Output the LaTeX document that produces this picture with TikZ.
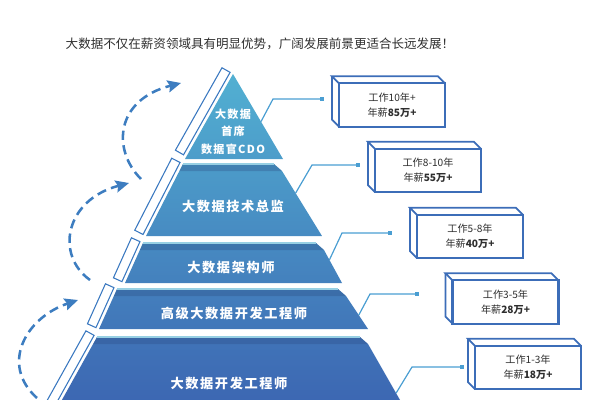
\documentclass[tikz,border=0pt]{standalone}
\usepackage{fontspec}
\setmainfont{Noto Sans CJK SC}
\newfontfamily\pyrfont[LetterSpace=12]{Noto Sans CJK SC}
\usetikzlibrary{calc,arrows.meta}
\definecolor{pyrT}{HTML}{52B0D2}
\definecolor{pyrB}{HTML}{3C66B2}
\definecolor{boxblue}{HTML}{3C6DB8}
\definecolor{linkblue}{HTML}{4A9ED2}
\definecolor{dashblue}{HTML}{3D7DC0}
\definecolor{stripblue}{HTML}{3A78C0}
\definecolor{txt}{HTML}{2E2E2E}
\newcommand\layerstrip[2]{%
  \filldraw[stripface] ($(#1)!2.5pt!-90:(#2)$) -- ($(#1)!9.5pt!-90:(#2)$) --
    ($(#2)!9.5pt!90:(#1)$) -- ($(#2)!2.5pt!90:(#1)$) -- cycle;}
\newcommand\boxfaces[1]{%
  \draw[boxface] (#1.north west) -- ++(-7,-7) -- ($(#1.north east)+(-7,-7)$) -- (#1.north east);
  \draw[boxface] ($(#1.north west)+(-7,-7)$) -- ($(#1.south west)+(-7,-7)$) -- (#1.south west);}
\begin{document}
\begin{tikzpicture}[x=0.75pt,y=-0.75pt,
  stripface/.style={fill=white, draw=stripblue, line width=0.8pt},
  band/.style={fill=pyrB!70!black, fill opacity=0.3, draw=none},
  hilite/.style={draw=pyrT!60!white, line width=0.8pt},
  pyrtext/.style={text=white, font=\pyrfont\bfseries\fontsize{9.9}{13}\selectfont, align=center, inner sep=0pt},
  toptext/.style={text=white, font=\pyrfont\bfseries\fontsize{8.3}{13}\selectfont, align=center, inner sep=0pt},
  title/.style={text=txt, font=\fontsize{9.4}{11}\selectfont, inner sep=0pt},
  link/.style={draw=linkblue, line width=0.9pt},
  dot/.style={rectangle, fill=linkblue, draw=none, inner sep=0pt, minimum size=3.2pt},
  infobox/.style={rectangle, draw=boxblue, line width=1.7pt, fill=white, outer sep=0pt,
    minimum width=79.5pt, minimum height=32.5pt, align=center, text=txt,
    font=\fontsize{7.6}{11.3}\selectfont},
  boxface/.style={draw=boxblue, line width=1.3pt, line join=miter},
  dasharrow/.style={draw=dashblue, line width=1.9pt, dash pattern=on 7pt off 4pt,
    -{Stealth[length=10pt,width=9pt,inset=1.5pt]}}
]
\useasboundingbox (0,0) rectangle (600,400);
\clip (0,0) rectangle (600,400);

% title
\node[title] (title) at (260,44) {大数据不仅在薪资领域具有明显优势，广阔发展前景更适合长远发展！};

% ---------- layer geometry ----------
\coordinate (A1) at (233,74);  \coordinate (L1) at (185,159); \coordinate (R1) at (283,159);
\coordinate (TL2) at (183,164); \coordinate (TR2) at (274,164); \coordinate (C2) at (282,171);
\coordinate (BR2) at (322,236); \coordinate (BL2) at (146,236); \coordinate (M2) at (179.4,171);
\coordinate (TL3) at (143,243); \coordinate (TR3) at (316,243); \coordinate (C3) at (324,250);
\coordinate (BR3) at (342,283); \coordinate (BL3) at (125,283); \coordinate (M3) at (139.9,250);
\coordinate (TL4) at (117,289); \coordinate (TR4) at (338,289); \coordinate (C4) at (346,296);
\coordinate (BR4) at (368,329); \coordinate (BL4) at (99,329);  \coordinate (M4) at (113.9,296);
\coordinate (TL5) at (97,337);  \coordinate (TR5) at (360,337); \coordinate (C5) at (368,344);
\coordinate (BR5) at (404,407); \coordinate (BL5) at (58,407);  \coordinate (M5) at (93.2,344);

% layer 1
\shade[top color=pyrT, bottom color=pyrB!26!pyrT] (A1) -- (R1) -- (L1) -- cycle;
\coordinate (S1) at ($(A1)!0.97!(L1)$);
\layerstrip{A1}{S1}
% layer 2
\shade[top color=pyrB!28!pyrT, bottom color=pyrB!50!pyrT] (TL2) -- (TR2) -- (C2) -- (BR2) -- (BL2) -- cycle;
\fill[band] (TL2) -- (TR2) -- (C2) -- (M2) -- cycle;
\draw[hilite] (TL2) -- (TR2);
\layerstrip{TL2}{BL2}
% layer 3
\shade[top color=pyrB!52!pyrT, bottom color=pyrB!64!pyrT] (TL3) -- (TR3) -- (C3) -- (BR3) -- (BL3) -- cycle;
\fill[band] (TL3) -- (TR3) -- (C3) -- (M3) -- cycle;
\draw[hilite] (TL3) -- (TR3);
\layerstrip{TL3}{BL3}
% layer 4
\shade[top color=pyrB!66!pyrT, bottom color=pyrB!78!pyrT] (TL4) -- (TR4) -- (C4) -- (BR4) -- (BL4) -- cycle;
\fill[band] (TL4) -- (TR4) -- (C4) -- (M4) -- cycle;
\draw[hilite] (TL4) -- (TR4);
\layerstrip{TL4}{BL4}
% layer 5
\shade[top color=pyrB!81!pyrT, bottom color=pyrB] (TL5) -- (TR5) -- (C5) -- (BR5) -- (BL5) -- cycle;
\fill[band] (TL5) -- (TR5) -- (C5) -- (M5) -- cycle;
\draw[hilite] (TL5) -- (TR5);
\layerstrip{TL5}{BL5}

% layer texts
\node[toptext] (t1) at (233,131.5) {大数据\\首席\\数据官CDO};
\node[pyrtext] (t2) at (233,206) {大数据技术总监};
\node[pyrtext] (t3) at (231,268) {大数据架构师};
\node[pyrtext] (t4) at (234,313) {高级大数据开发工程师};
\node[pyrtext] (t5) at (229,383) {大数据开发工程师};

% ---------- info boxes ----------
\node[infobox] (b1) at (392,105)   {工作10年+\\年薪\textbf{85万+}};
\node[infobox] (b2) at (428,170.5) {工作8-10年\\年薪\textbf{55万+}};
\node[infobox] (b3) at (470,236.5) {工作5-8年\\年薪\textbf{40万+}};
\node[infobox] (b4) at (505.5,302) {工作3-5年\\年薪\textbf{28万+}};
\node[infobox] (b5) at (528,367.5) {工作1-3年\\年薪\textbf{18万+}};
\boxfaces{b1}
\boxfaces{b2}
\boxfaces{b3}
\boxfaces{b4}
\boxfaces{b5}

% ---------- connectors ----------
\coordinate (e1) at ($(A1)!0.56!(R1)$); \coordinate (k1) at (273,99);
\coordinate (e2) at ($(C2)!0.34!(BR2)$); \coordinate (k2) at (312,165);
\coordinate (e3) at ($(C3)!0.30!(BR3)$); \coordinate (k3) at (342,233);
\coordinate (e4) at ($(C4)!0.58!(BR4)$); \coordinate (k4) at (370,294);
\coordinate (e5) at ($(C5)!0.78!(BR5)$); \coordinate (k5) at (412,367);
\node[dot] (d1) at (322,99) {};
\node[dot] (d2) at (358,165) {};
\node[dot] (d3) at (390,233) {};
\node[dot] (d4) at (417,294) {};
\node[dot] (d5) at (462,367) {};
\draw[link] (e1) -- (k1) -- (d1.center);
\draw[link] (e2) -- (k2) -- (d2.center);
\draw[link] (e3) -- (k3) -- (d3.center);
\draw[link] (e4) -- (k4) -- (d4.center);
\draw[link] (e5) -- (k5) -- (d5.center);

% ---------- dashed arrows ----------
\coordinate (a1s) at (37,398); \coordinate (a1e) at (78,300);
\coordinate (a2s) at (90,280); \coordinate (a2e) at (129,183);
\coordinate (a3s) at (141,179); \coordinate (a3e) at (181,83);
\draw[dasharrow] (a1s) .. controls (0,365) and (25,318) .. (a1e);
\draw[dasharrow] (a2s) .. controls (55,255) and (65,200) .. (a2e);
\draw[dasharrow] (a3s) .. controls (112,150) and (115,100) .. (a3e);
\end{tikzpicture}
\end{document}
